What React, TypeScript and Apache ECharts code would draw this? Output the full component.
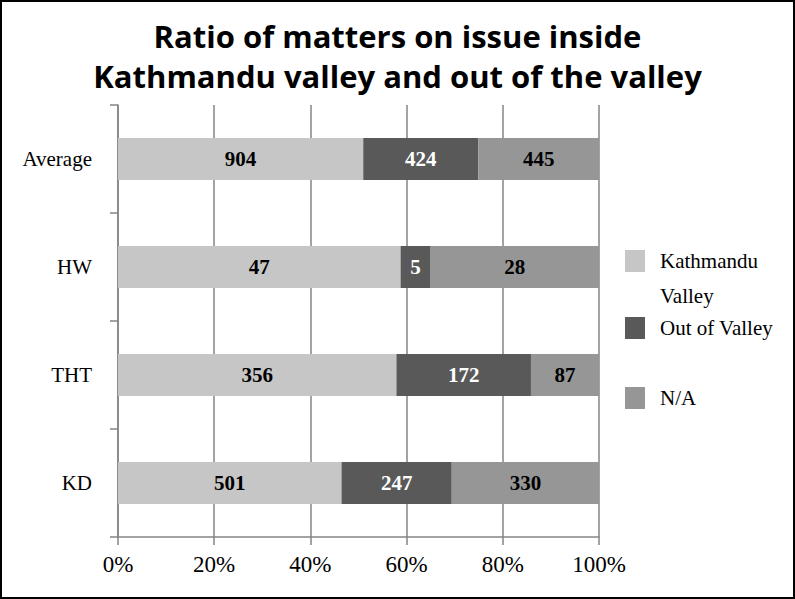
import React, { useEffect, useRef } from "react";
import * as echarts from "echarts";

const categories = ["Average", "HW", "THT", "KD"];
const kathmanduValley = [904, 47, 356, 501];
const outOfValley = [424, 5, 172, 247];
const notAvailable = [445, 28, 87, 330];
const xTicks = [0, 20, 40, 60, 80, 100];

const seriesNames = ["Kathmandu Valley", "Out of Valley", "N/A"];
const seriesColors = ["#c6c6c6", "#595959", "#969696"];
const labelColors = ["#000000", "#ffffff", "#000000"];

const SERIF = "'Liberation Serif', 'DejaVu Serif', serif";

export default function App() {
  const ref = useRef<HTMLDivElement>(null);
  useEffect(() => {
    if (!ref.current) return;
    const chart = echarts.init(ref.current, undefined, { renderer: "svg" });
    const totals = categories.map(
      (_, i) => kathmanduValley[i] + outOfValley[i] + notAvailable[i]
    );
    const raw = [kathmanduValley, outOfValley, notAvailable];
    const series = raw.map((arr, s) => ({
      name: seriesNames[s],
      type: "bar",
      stack: "total",
      barWidth: "39%",
      itemStyle: { color: seriesColors[s] },
      label: {
        show: true,
        position: "inside",
        formatter: (p: any) => String(p.data.raw),
        color: labelColors[s],
        fontFamily: SERIF,
        fontWeight: "bold",
        fontSize: 21,
      },
      data: arr.map((v, i) => ({ value: (v / totals[i]) * 100, raw: v })),
    }));
    const legendText = {
      fontFamily: SERIF,
      fontSize: 21,
      color: "#000",
      lineHeight: 35,
      padding: [0, 0, 0, 10],
    };
    chart.setOption({
      animation: false,
      backgroundColor: "#ffffff",
      title: {
        text: "Ratio of matters on issue inside\nKathmandu valley and out of the valley",
        left: "center",
        top: 11,
        textStyle: {
          fontFamily: "'Open Sans', Roboto, sans-serif",
          fontWeight: "bold",
          fontSize: 31,
          lineHeight: 40,
          color: "#000",
        },
      },
      legend: [
        {
          data: [seriesNames[0]],
          orient: "vertical",
          left: 625,
          top: 243.5,
          padding: 0,
          icon: "path://M0,0h20v22h-20z M0,57 L0,57",
          itemWidth: 20,
          itemHeight: 57,
          selectedMode: false,
          formatter: () => "Kathmandu\nValley",
          textStyle: legendText,
        },
        {
          data: [seriesNames[1]],
          orient: "vertical",
          left: 625,
          top: 310.5,
          padding: 0,
          icon: "rect",
          itemWidth: 20,
          itemHeight: 22,
          selectedMode: false,
          textStyle: legendText,
        },
        {
          data: [seriesNames[2]],
          orient: "vertical",
          left: 625,
          top: 380.5,
          padding: 0,
          icon: "rect",
          itemWidth: 20,
          itemHeight: 22,
          selectedMode: false,
          textStyle: legendText,
        },
      ],
      grid: { left: 118, right: 196, top: 105, bottom: 62, containLabel: false },
      xAxis: {
        type: "value",
        min: xTicks[0],
        max: xTicks[xTicks.length - 1],
        interval: 20,
        axisLine: { show: true, lineStyle: { color: "#858585", width: 1.5 } },
        axisTick: { show: true, length: 8, lineStyle: { color: "#858585", width: 1.5 } },
        splitLine: { show: true, lineStyle: { color: "#858585", width: 1.5 } },
        axisLabel: {
          formatter: "{value}%",
          fontFamily: SERIF,
          fontSize: 23,
          color: "#000",
          margin: 16,
        },
      },
      yAxis: {
        type: "category",
        data: categories,
        inverse: true,
        axisLine: { show: true, lineStyle: { color: "#858585", width: 1.5 } },
        axisTick: { show: true, length: 8, lineStyle: { color: "#858585", width: 1.5 } },
        splitLine: { show: false },
        axisLabel: {
          fontFamily: SERIF,
          fontSize: 21,
          color: "#000",
          margin: 26,
        },
      },
      graphic: [
        {
          type: "rect",
          shape: { x: 1, y: 1, width: 793, height: 597 },
          style: { fill: "none", stroke: "#000", lineWidth: 2 },
          silent: true,
        },
      ],
      series,
    });
    return () => chart.dispose();
  }, []);
  return (
    <div
      ref={ref}
      style={{ position: "fixed", left: 0, top: 0, width: 795, height: 599 }}
    />
  );
}
